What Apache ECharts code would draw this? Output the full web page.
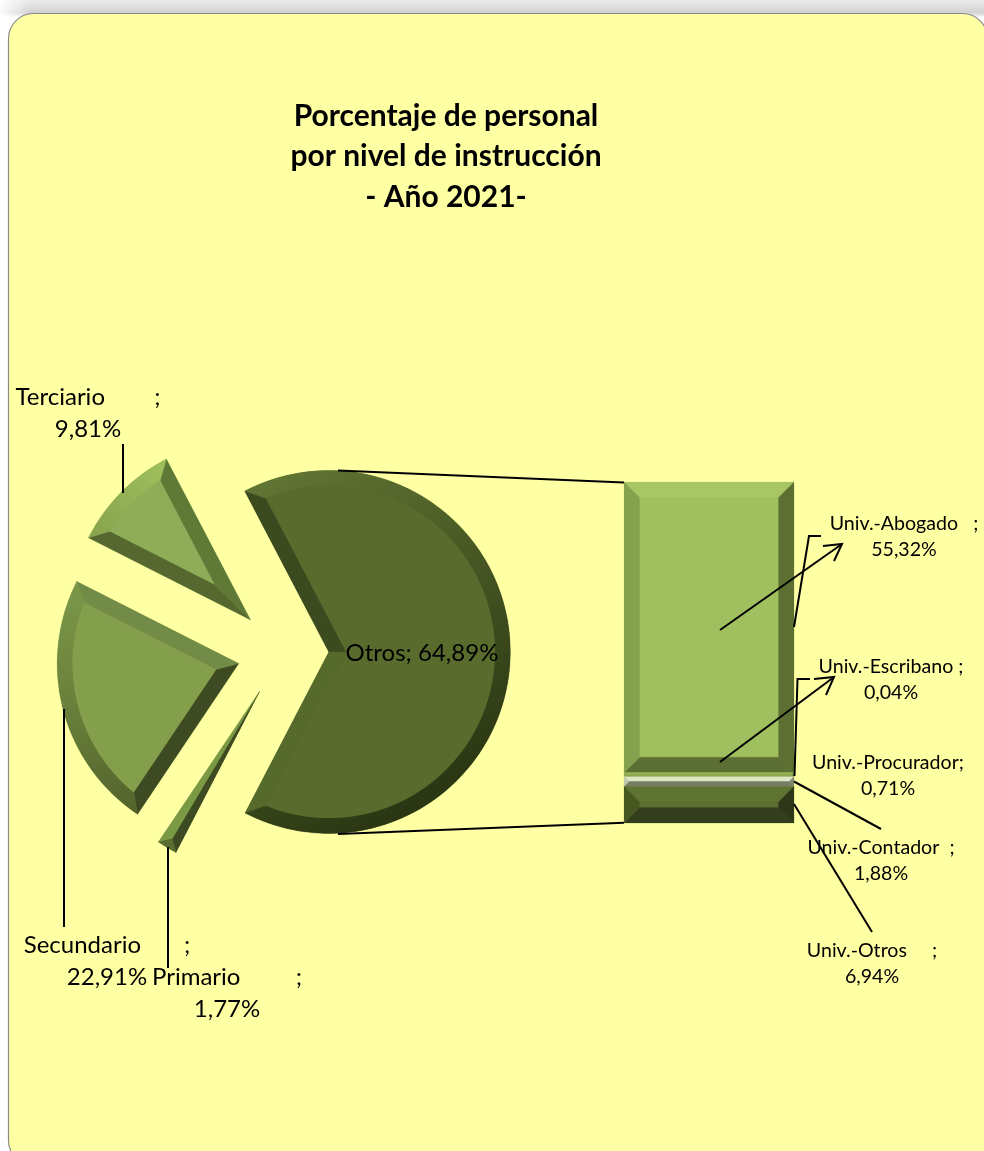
<!DOCTYPE html>
<html>
<head>
<meta charset="utf-8">
<title>Porcentaje de personal por nivel de instrucción</title>
<script src="https://cdn.jsdelivr.net/npm/echarts@6/dist/echarts.min.js"></script>
<style>
    html, body { margin: 0; padding: 0; background: #fff; }
    #main { width: 984px; height: 1151px; }
</style>
</head>
<body>
<div id="main"></div>
<script>
// datos
const pieNames = ['Otros', 'Primario         ', 'Secundario       ', 'Terciario        '];
const pieValues = [64.89, 1.77, 22.91, 9.81];
const barNames = ['Univ.-Abogado   ', 'Univ.-Escribano ', 'Univ.-Procurador', 'Univ.-Contador  ', 'Univ.-Otros     '];
const barValues = [55.32, 0.04, 0.71, 1.88, 6.94];

// geometria de la torta
const PIE_CENTER = [283, 652];
const PIE_R = 181.5;
const PIE_OFFSET = 45.8;
const PIE_START = 117.6;
const BEVEL = 15.5;
const FONT = 'Lato';

// colores: cara, borde inicial, borde final, arco [desde, hasta]
const pieColors = [
    { face: '#596B2D', edge1: '#3C4A20', edge2: '#566A2B', arc: ['#627634', '#25300F'], grad: [250, 480, 450, 830] },
    { face: '#5A6D30', edge1: '#3E4A22', edge2: '#7A9A45', arc: ['#5A6D30', '#5A6D30'], grad: [160, 840, 176, 850] },
    { face: '#849F4C', edge1: '#3E4A22', edge2: '#728B46', arc: ['#7A9647', '#54642C'], grad: [60, 600, 140, 810] },
    { face: '#8FAD58', edge1: '#56672F', edge2: '#5F7A36', arc: ['#9FBF5C', '#88A44E'], grad: [165, 465, 95, 535] }
];
// colores de barra: cara, arriba, izquierda, derecha, abajo
const barColors = [
    { face: '#A0BF5E', top: '#A8C664', left: '#84A14D', right: '#5D7032', bottom: '#5B6E33' },
    { face: '#9BBB59', top: '#9BBB59', left: '#9BBB59', right: '#9BBB59', bottom: '#9BBB59' },
    { face: '#90A950', top: '#97B255', left: '#90A950', right: '#6F8240', bottom: '#8AA44C' },
    { face: '#A9AF94', top: '#DDE6C5', left: '#C2CBAA', right: '#808670', bottom: '#777C66' },
    { face: '#5C6F30', top: '#5F7332', left: '#46571F', right: '#2E3818', bottom: '#343E1E' }
];

const fmt = (v) => v.toFixed(2).replace('.', ',');
const total = pieValues.reduce((a, b) => a + b, 0);
const barTotal = barValues.reduce((a, b) => a + b, 0);

// posicion de las etiquetas de la torta
const pieLabelPos = [[422, 653], [227, 993.5], [107, 961], [88, 413]];
const barLabelPos = [[904, 537], [891, 680], [888, 775.5], [881, 861], [872, 963.5]];

const rad = (d) => d * Math.PI / 180;
const dir = (d) => [Math.cos(rad(d)), Math.sin(rad(d))];

// dibuja el bisel de una porcion a partir de su valor
function renderSlice(params) {
    const i = params.dataIndex;
    let a1 = -PIE_START;
    for (let k = 0; k < i; k++) {
        a1 += pieValues[k] / total * 360;
    }
    const a2 = a1 + pieValues[i] / total * 360;
    const mid = (a1 + a2) / 2;
    const half = (a2 - a1) / 2;
    const md = dir(mid);
    const A = [PIE_CENTER[0] + md[0] * PIE_OFFSET, PIE_CENTER[1] + md[1] * PIE_OFFSET];
    const c = pieColors[i];
    const on = (ang, r) => [A[0] + Math.cos(rad(ang)) * r, A[1] + Math.sin(rad(ang)) * r];
    const arcPts = (from, to, r) => {
        const pts = [];
        const n = Math.max(2, Math.ceil(Math.abs(to - from) / 2));
        for (let k = 0; k <= n; k++) {
            pts.push(on(from + (to - from) * k / n, r));
        }
        return pts;
    };
    const outer = arcPts(a1, a2, PIE_R);
    const arcFill = new echarts.graphic.LinearGradient(c.grad[0], c.grad[1], c.grad[2], c.grad[3],
        [{ offset: 0, color: c.arc[0] }, { offset: 1, color: c.arc[1] }], true);
    // el sector seleccionado sube su z2, por eso el bisel va mas alto
    const poly = (points, fill) => ({ type: 'polygon', z2: 15, silent: true, shape: { points: points }, style: { fill: fill, stroke: fill, lineWidth: 0.3 } });
    const label = {
        type: 'text',
        z2: 20,
        silent: true,
        style: {
            text: i === 0 ? `${pieNames[i]}; ${fmt(pieValues[i])}%` : `${pieNames[i]};\n${fmt(pieValues[i])}%`,
            x: pieLabelPos[i][0],
            y: pieLabelPos[i][1],
            align: 'center',
            verticalAlign: 'middle',
            fill: '#000',
            fontFamily: FONT,
            fontSize: 24,
            lineHeight: 32
        }
    };
    const sinH = Math.sin(rad(half));

    // porcion muy angosta: los dos bordes se juntan sobre la bisectriz
    if (PIE_R * sinH < BEVEL * 1.5) {
        const M = on(mid, PIE_R - PIE_R * sinH);
        return {
            type: 'group',
            children: [
                poly([A, outer[0], M], c.edge1),
                poly([A, M, outer[outer.length - 1]], c.edge2),
                poly([M].concat(outer), arcFill),
                label
            ]
        };
    }

    const dist = BEVEL / sinH;
    const B = [A[0] + md[0] * dist, A[1] + md[1] * dist];
    const inner = PIE_R - BEVEL;
    const corner = (ang) => {
        const d = dir(ang);
        const ox = B[0] - A[0];
        const oy = B[1] - A[1];
        const b = ox * d[0] + oy * d[1];
        const t = -b + Math.sqrt(b * b - (ox * ox + oy * oy - inner * inner));
        return [B[0] + d[0] * t, B[1] + d[1] * t];
    };
    const c1 = corner(a1);
    const c2 = corner(a2);
    let ang1 = Math.atan2(c1[1] - A[1], c1[0] - A[0]) * 180 / Math.PI;
    let ang2 = Math.atan2(c2[1] - A[1], c2[0] - A[0]) * 180 / Math.PI;
    while (ang1 < a1 - 1) ang1 += 360;
    while (ang2 < ang1) ang2 += 360;
    const innerArc = arcPts(ang1, ang2, inner);
    return {
        type: 'group',
        children: [
            poly([A, outer[0], c1, B], c.edge1),
            poly([A, outer[outer.length - 1], c2, B], c.edge2),
            poly(outer.concat(innerArc.slice().reverse()), arcFill),
            poly([B].concat(innerArc), c.face),
            label
        ]
    };
}

// bisel de cada tramo de la barra apilada
function renderSegment(params, api) {
    const c = barColors[api.value(3)];
    const p0 = api.coord([0, api.value(1)]);
    const p1 = api.coord([0, api.value(2)]);
    const w = api.size([1, 0])[0];
    const x0 = p0[0] - w / 2;
    const x1 = p0[0] + w / 2;
    const y0 = p0[1];
    const y1 = p1[1];
    const b = Math.min(BEVEL, (y1 - y0) / 2);
    const poly = (points, fill) => ({ type: 'polygon', silent: true, shape: { points: points }, style: { fill: fill, stroke: fill, lineWidth: 0.2 } });
    return {
        type: 'group',
        children: [
            poly([[x0 + b, y0 + b], [x1 - b, y0 + b], [x1 - b, y1 - b], [x0 + b, y1 - b]], c.face),
            poly([[x0, y0], [x1, y0], [x1 - b, y0 + b], [x0 + b, y0 + b]], c.top),
            poly([[x0, y1], [x1, y1], [x1 - b, y1 - b], [x0 + b, y1 - b]], c.bottom),
            poly([[x0, y0], [x0 + b, y0 + b], [x0 + b, y1 - b], [x0, y1]], c.left),
            poly([[x1, y0], [x1 - b, y0 + b], [x1 - b, y1 - b], [x1, y1]], c.right)
        ]
    };
}

// lineas guia
const leaders = [
    [[338, 470.5], [624, 482.5]],
    [[338, 834], [624, 822.7]],
    [[123, 444], [123, 493]],
    [[64, 709], [64, 927]],
    [[168, 847], [168, 968]],
    [[794, 627], [809, 536], [821, 536]],
    [[720, 630], [842, 544]],
    [[823, 546], [842, 544], [834, 561]],
    [[794.5, 776], [797.5, 679], [810, 679]],
    [[720, 762], [834, 677]],
    [[814, 679], [834, 677], [826, 695]],
    [[794, 781.5], [881, 829]],
    [[794, 804], [872, 932]]
];

let segStart = 0;
const segData = barValues.map((v, i) => {
    const row = [0, segStart, segStart + v, i];
    segStart += v;
    return row;
});

var myChart = echarts.init(document.getElementById('main'), null, { renderer: 'canvas' });

const option = {
    animation: false,
    backgroundColor: '#fff',
    textStyle: { fontFamily: FONT },
    title: {
        text: 'Porcentaje de personal\npor nivel de instrucción\n- Año 2021-',
        left: 446,
        top: 91,
        textAlign: 'center',
        textStyle: {
            fontFamily: FONT,
            fontSize: 30,
            fontWeight: 'bold',
            color: '#000',
            lineHeight: 40.5,
            align: 'center'
        }
    },
    grid: { left: 624, top: 482, width: 170, height: 341 },
    xAxis: { type: 'category', data: ['Otros'], show: false },
    yAxis: { type: 'value', min: 0, max: barTotal, inverse: true, show: false },
    graphic: [
        {
            type: 'rect', z: -20, silent: true,
            shape: { x: 0, y: 0, width: 984, height: 30 },
            style: {
                fill: new echarts.graphic.LinearGradient(0, 0, 0, 1, [
                    { offset: 0, color: '#ECECEC' }, { offset: 0.42, color: '#D2D2D2' }, { offset: 0.6, color: '#fff' }
                ])
            }
        },
        {
            type: 'rect', z: -19, silent: true,
            shape: { x: 0, y: 0, width: 30, height: 40 },
            style: {
                fill: new echarts.graphic.LinearGradient(0, 0, 1, 0, [
                    { offset: 0, color: 'rgba(255,255,255,0.95)' }, { offset: 1, color: 'rgba(255,255,255,0)' }
                ])
            }
        },
        {
            type: 'rect', z: -10, silent: true,
            shape: { x: 8.5, y: 13.5, width: 979, height: 1152, r: 25 },
            style: { fill: '#FFFFA3', stroke: '#8A8A8A', lineWidth: 1.2 }
        }
    ].concat(leaders.map((pts) => ({
        type: 'polyline', z: 20, silent: true,
        shape: { points: pts },
        style: { stroke: '#000', lineWidth: 2, fill: null }
    }))),
    series: [
        {
            type: 'pie',
            z: 2,
            center: PIE_CENTER,
            radius: PIE_R,
            startAngle: PIE_START,
            clockwise: true,
            silent: true,
            selectedMode: 'multiple',
            selectedOffset: PIE_OFFSET,
            itemStyle: { borderWidth: 0 },
            data: pieNames.map((n, i) => ({
                name: n,
                value: pieValues[i],
                selected: true,
                itemStyle: { color: pieColors[i].face }
            })),
            label: { show: false },
            labelLine: { show: false }
        },
        {
            type: 'custom',
            z: 2,
            coordinateSystem: 'none',
            silent: true,
            data: pieValues.map((v, i) => [v, i]),
            renderItem: renderSlice
        }
    ].concat(barNames.map((n, i) => ({
        type: 'bar',
        z: 2,
        name: n,
        stack: 'univ',
        barWidth: '100%',
        silent: true,
        itemStyle: { color: barColors[i].face },
        data: [barValues[i]],
        label: {
            show: true,
            position: 'right',
            color: '#000',
            fontFamily: FONT,
            fontSize: 19.6,
            lineHeight: 26,
            align: 'center',
            formatter: (p) => `${p.seriesName};\n${fmt(p.value)}%`
        },
        labelLayout: {
            x: barLabelPos[i][0],
            y: barLabelPos[i][1],
            align: 'center',
            verticalAlign: 'middle'
        }
    }))).concat([
        {
            type: 'custom',
            z: 3,
            silent: true,
            data: segData,
            renderItem: renderSegment
        }
    ])
};

option.title.left = 441;
myChart.setOption(option);
</script>
</body>
</html>
